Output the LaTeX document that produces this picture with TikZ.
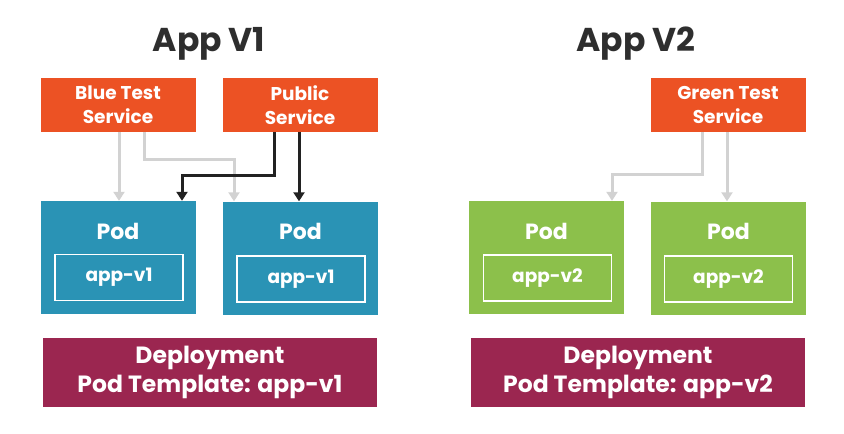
\documentclass[tikz,border=0pt]{standalone}
\usepackage{fontspec}
\setmainfont{Poppins}
\usetikzlibrary{arrows.meta,calc,positioning}

\definecolor{svcorange}{HTML}{EC5224}
\definecolor{podblue}{HTML}{2A93B5}
\definecolor{podgreen}{HTML}{8CC04B}
\definecolor{depmaroon}{HTML}{9B2650}
\definecolor{titlegray}{HTML}{2E2E2E}
\definecolor{linkgray}{HTML}{D2D2D2}
\definecolor{linkdark}{HTML}{222222}

\begin{document}
\begin{tikzpicture}[x=1pt,y=-1pt,
    >={Triangle[width=11pt,length=9pt]},
    title/.style={text=titlegray,font=\bfseries\fontsize{33}{40}\selectfont,inner sep=0pt},
    svc/.style={fill=svcorange,text=white,align=center,inner sep=0pt,
      font=\bfseries\fontsize{18.5}{24}\selectfont,minimum width=155pt,minimum height=54pt},
    pod/.style={minimum width=155pt,minimum height=113pt,inner sep=0pt},
    podtext/.style={text=white,font=\bfseries\fontsize{22}{28}\selectfont,inner sep=0pt},
    appbox/.style={draw=white,line width=1.5pt,text=white,inner sep=0pt,
      font=\bfseries\fontsize{18.5}{22}\selectfont,minimum width=128pt,minimum height=46pt},
    deploy/.style={fill=depmaroon,text=white,align=center,inner sep=0pt,
      font=\bfseries\fontsize{23.5}{29}\selectfont,minimum width=334pt,minimum height=69pt},
    light/.style={->,draw=linkgray,line width=3pt},
    dark/.style={->,draw=linkdark,line width=3pt}]
%
  \useasboundingbox (0,0) rectangle (844,434);
%
  \node[title] (v1) at (209,44) {App V1};
  \node[title] (v2) at (636,44) {App V2};
%
  \node[svc] (bts) at (118,105) {Blue Test\\Service};
  \node[svc] (pub) at (300,105) {Public\\Service};
  \node[svc] (gts) at (728,105) {Green Test\\Service};
%
  \node[pod,fill=podblue] (pod1) at (118,257.5) {};
  \node[pod,fill=podblue] (pod2) at (300.5,258) {};
  \node[pod,fill=podgreen] (pod3) at (546.5,257.5) {};
  \node[pod,fill=podgreen] (pod4) at (728.5,258) {};
%
  \foreach \p in {pod1,pod2,pod3,pod4}
    \node[podtext,below=22pt of \p.north] (\p t) {Pod};
%
  \node[appbox] (app1) at (119,277.5) {app-v1};
  \node[appbox] (app2) at (301,279) {app-v1};
  \node[appbox] (app3) at (547.5,278) {app-v2};
  \node[appbox] (app4) at (728.5,279) {app-v2};
%
  \node[deploy] (dep1) at (210,372.5) {Deployment\\Pod Template: app-v1};
  \node[deploy] (dep2) at (638,372.5) {Deployment\\Pod Template: app-v2};
%
  \draw[light] ([xshift=1pt]bts.south) -- ([xshift=1pt]bts.south |- pod1.north);
  \draw[light] ([xshift=26pt]bts.south) -- ++(0,27) -| ([xshift=-66.5pt]pod2.north);
  \draw[dark] ([xshift=-26pt]pub.south) -- ++(0,43) -| ([xshift=64pt]pod1.north);
  \draw[dark] ([xshift=-1pt]pub.south) -- ([xshift=-1pt]pub.south |- pod2.north);
  \draw[light] ([xshift=-26pt]gts.south) -- ++(0,42) -| ([xshift=65.5pt]pod3.north);
  \draw[light] ([xshift=-1pt]gts.south) -- ([xshift=-1pt]gts.south |- pod4.north);

\end{tikzpicture}
\end{document}
